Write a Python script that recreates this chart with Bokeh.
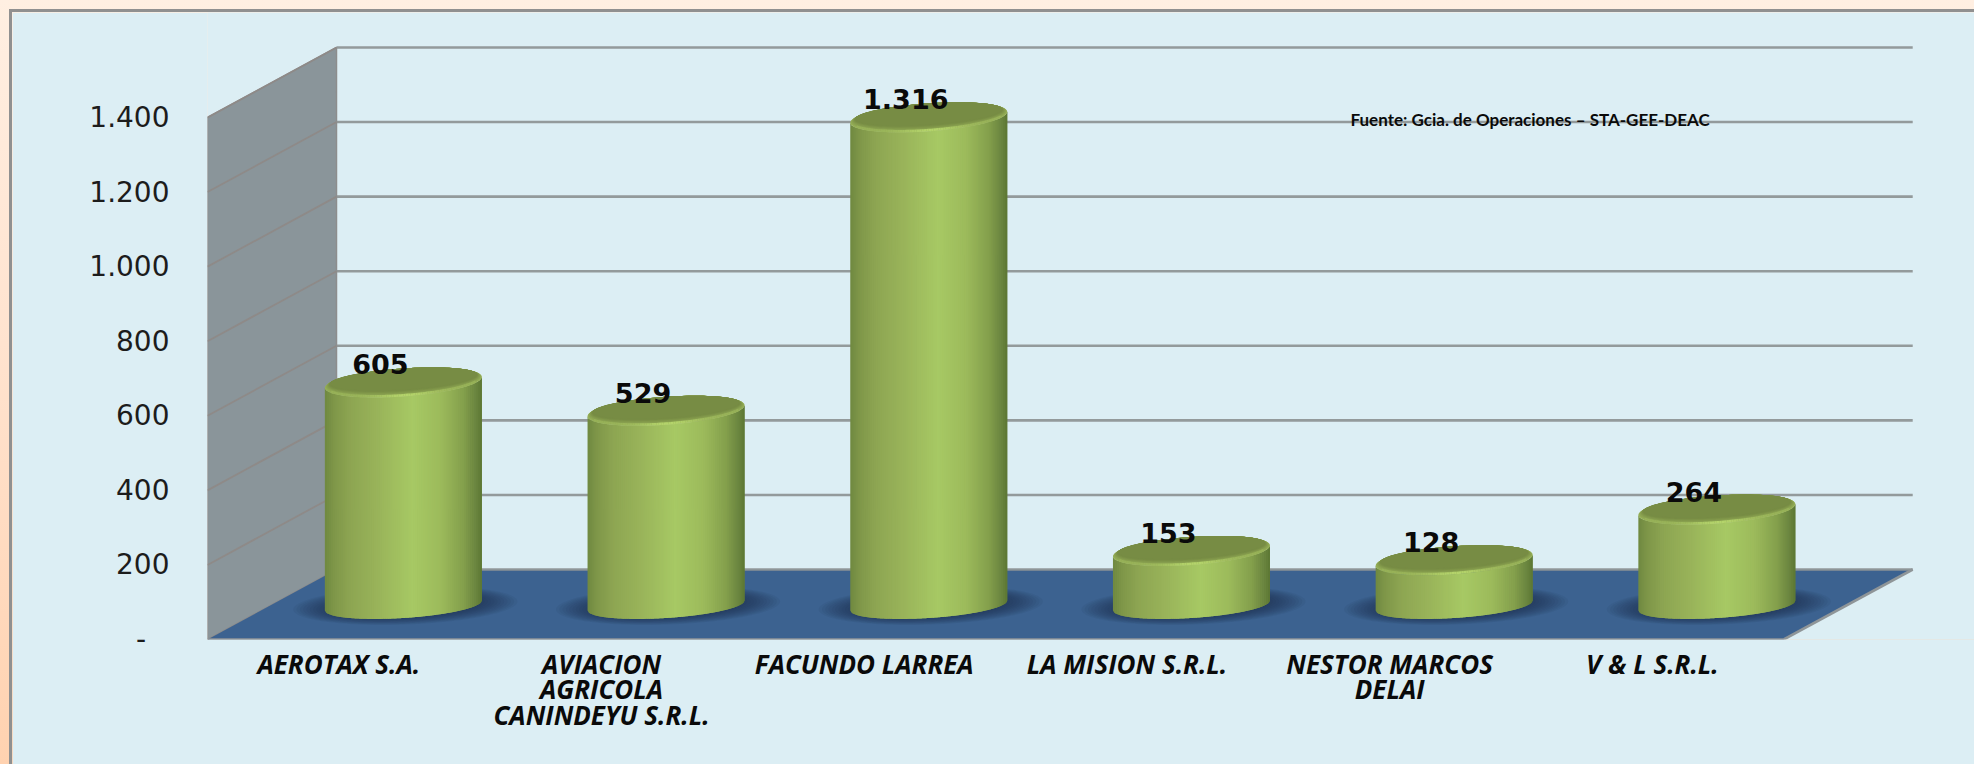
import numpy as np
from bokeh.plotting import figure
from bokeh.models import FixedTicker
from bokeh.core.properties import value
from bokeh.embed import file_html
from bokeh.resources import INLINE

categories = ["AEROTAX S.A.", "AVIACION\nAGRICOLA\nCANINDEYU S.R.L.", "FACUNDO LARREA",
              "LA MISION S.R.L.", "NESTOR MARCOS\nDELAI", "V & L S.R.L."]
values = [605, 529, 1316, 153, 128, 264]
value_labels = ["605", "529", "1.316", "153", "128", "264"]
ticks = [0, 200, 400, 600, 800, 1000, 1200, 1400]
tick_labels = ["-\u00a0\u00a0\u2009", "200", "400", "600", "800", "1.000", "1.200", "1.400"]
source_note = "Fuente: Gcia. de Operaciones \u2013 STA-GEE-DEAC"

PANEL = "#DCEEF4"
W, H = 1962, 752
LEFT, BOTTOM = 195, 125
SX = 262.7         # px per category
SY = 522 / 1400    # px per value unit
DX = 129 / SX      # chart depth, in category units
DY = 70 / SY       # chart depth, in value units
X_END = (W - LEFT) / SX
Y_END = (H - BOTTOM) / SY

p = figure(width=W, height=H, x_range=(0, X_END), y_range=(0, Y_END),
           output_backend="svg", toolbar_location=None,
           min_border_left=LEFT, min_border_bottom=BOTTOM, min_border_top=0, min_border_right=0,
           background_fill_color=PANEL, border_fill_color=PANEL, outline_line_color=None)
p.styles = {"margin-left": "12px", "margin-top": "12px", "outline": "3px solid #909090"}
p.grid.visible = False

# axes
ax = p.yaxis[0]
ax.ticker = FixedTicker(ticks=ticks)
ax.major_label_overrides = {t: s for t, s in zip(ticks, tick_labels)}
ax.axis_line_color = None
ax.major_tick_line_color = None
ax.minor_tick_line_color = None
ax.major_label_standoff = 32
ax.major_label_text_font = "DejaVu Sans"
ax.major_label_text_font_size = "28px"
ax.major_label_text_color = "#1c1c1c"

bx = p.xaxis[0]
xt = [i + 0.5 for i in range(len(categories))]
bx.ticker = FixedTicker(ticks=xt)
bx.major_label_overrides = {t: s for t, s in zip(xt, categories)}
bx.axis_line_color = None
bx.major_tick_line_color = None
bx.minor_tick_line_color = None
bx.major_label_standoff = 0
bx.major_label_text_font = "Open Sans"
bx.major_label_text_font_style = "bold italic"
bx.major_label_text_font_size = "26px"
bx.major_label_text_line_height = 0.72
bx.major_label_text_color = "#0a0a0a"

n = len(categories)
top_v = ticks[-1]

# side wall, floor
p.patch([0, DX, DX, 0], [0, DY, top_v + DY, top_v], fill_color="#8A959A", line_color="#8d8d8d", line_width=1.5)
p.patch([0, n, n + DX, DX], [0, 0, DY, DY], fill_color="#3C6290", line_color=None)
# back grid lines
p.segment([DX] * len(ticks), [t + DY for t in ticks], [n + DX] * len(ticks), [t + DY for t in ticks],
          line_color="#8E9596", line_width=2.6, line_alpha=0.95)
# wall grid lines
p.segment([0] * (len(ticks) - 1), ticks[1:], [DX] * (len(ticks) - 1), [t + DY for t in ticks[1:]],
          line_color="#8E8A88", line_width=1.8)
# floor edges
p.segment([0, n], [0, 0], [n, n + DX], [0, DY], line_color="#8F9598", line_width=2.6)


def hex2rgb(h):
    return np.array([int(h[i:i + 2], 16) for i in (1, 3, 5)], float)


def rgb2hex(c):
    return "#%02x%02x%02x" % tuple(int(round(v)) for v in c)


def mix(a, b, t):
    return rgb2hex(hex2rgb(a) * (1 - t) + hex2rgb(b) * t)


stops_u = [0, .06, .16, .32, .56, .74, .88, .96, 1]
stops_c = [hex2rgb(c) for c in ["#6F8940", "#7F9749", "#8DA552", "#98B259", "#A7C964",
                                "#9CBA5B", "#84A04C", "#6B8640", "#5C7733"]]


def side_color(u):
    return rgb2hex([np.interp(u, stops_u, [c[j] for c in stops_c]) for j in range(3)])


A = 78.5 / SX
K = 5.5 / SY
B_TOP = 14.0 / SY
B_BASE = 12.5 / SY
BASE_Y = (639 - 605) / SY
TOP_Y = (639 - 607.5) / SY
t = np.linspace(0, 2 * np.pi, 121)


def ellipse(cx, cy, a, b, k):
    return cx + a * np.cos(t), cy + b * np.sin(t) + k * np.cos(t)


for i, v in enumerate(values):
    xc = i + 0.5 + DX / 2
    base = BASE_Y
    top = v + TOP_Y
    # soft shadow on the floor
    layers = 14
    sx, sy = [], []
    for j in range(layers):
        f = 1 - j / layers
        ex, ey = ellipse(xc + 2 / SX, base, (66 + 46 * f) / SX, (10 + 9 * f) / SY, 4 / SY)
        sx.append(ex); sy.append(ey)
    p.patches(sx, sy, fill_color="#1C2F4A", fill_alpha=0.07, line_color=None)
    # side of the cylinder, in vertical strips drawn left to right, each overlapping the next
    N = 80
    edges = np.linspace(-1, 1, N + 1)
    xs, ys, cols = [], [], []
    for m, (a0, a1) in enumerate(zip(edges[:-1], edges[1:])):
        a1o = min(1.0, a1 + 2 / N)
        us = np.linspace(a0, a1o, 4)
        upper = top + K * us - B_TOP * np.sqrt(np.clip(1 - us ** 2, 0, 1))
        lower = base + K * 0.9 * us - B_BASE * np.sqrt(np.clip(1 - us ** 2, 0, 1))
        xs.append(np.r_[xc + A * us, xc + A * us[::-1]])
        ys.append(np.r_[upper, lower[::-1]])
        cols.append(side_color((a0 + a1 + 2) / 4))
    p.patches(xs, ys, fill_color=cols, line_color=None)
    # top face, with bevel from the rim to the flat top
    steps = 10
    for j in range(steps):
        f = j / (steps - 1)
        sh = f * 7.0 / SY
        ex, ey = ellipse(xc, top + sh / 2, A * (1 - .07 * f), B_TOP - sh / 2, K * (1 - .15 * f))
        p.patch(ex, ey, fill_color=mix("#97B158", "#778C44", min(1, f * 1.25)), line_color=None)
    # bright front edge of the rim, fading towards the sides
    arc_u = np.linspace(-0.92, 0.92, 61)
    arc_x = xc + A * arc_u
    arc_y = top + K * arc_u - B_TOP * np.sqrt(1 - arc_u ** 2)
    p.multi_line([[arc_x[m], arc_x[m + 1]] for m in range(60)],
                 [[arc_y[m] + 1.2 / SY, arc_y[m + 1] + 1.2 / SY] for m in range(60)],
                 line_color=[mix("#97B158", "#B4D46B", float(np.exp(-((arc_u[m] - 0.02) / 0.4) ** 2))) for m in range(60)],
                 line_width=2.5)

# value labels
xc_list = [i + 0.5 + DX / 2 for i in range(n)]
p.text(xc_list, [v + TOP_Y for v in values], text=value_labels, x_offset=-23, y_offset=-18,
       text_align="center", text_baseline="middle", text_font=value("DejaVu Sans"),
       text_font_style="bold", text_font_size="27px", text_color="#0a0a0a")

# source note
p.text([(1350 - 207) / SX], [(639 - 119) / SY], text=[source_note], text_align="left", text_baseline="middle",
       text_font=value("Lato"), text_font_style="bold", text_font_size="17px", text_color="#0a0a0a")

html = file_html(p, INLINE)
css = ("<style>html,body{overflow:hidden;background:linear-gradient(180deg,#FFEFE2 0%,#FFE3CF 45%,#FFD2B0 100%) "
       "no-repeat;background-size:100% 100%;height:100%;box-sizing:border-box}</style>")
html = html.replace("</head>", css + "</head>", 1)
open("out.html", "w").write(html)
